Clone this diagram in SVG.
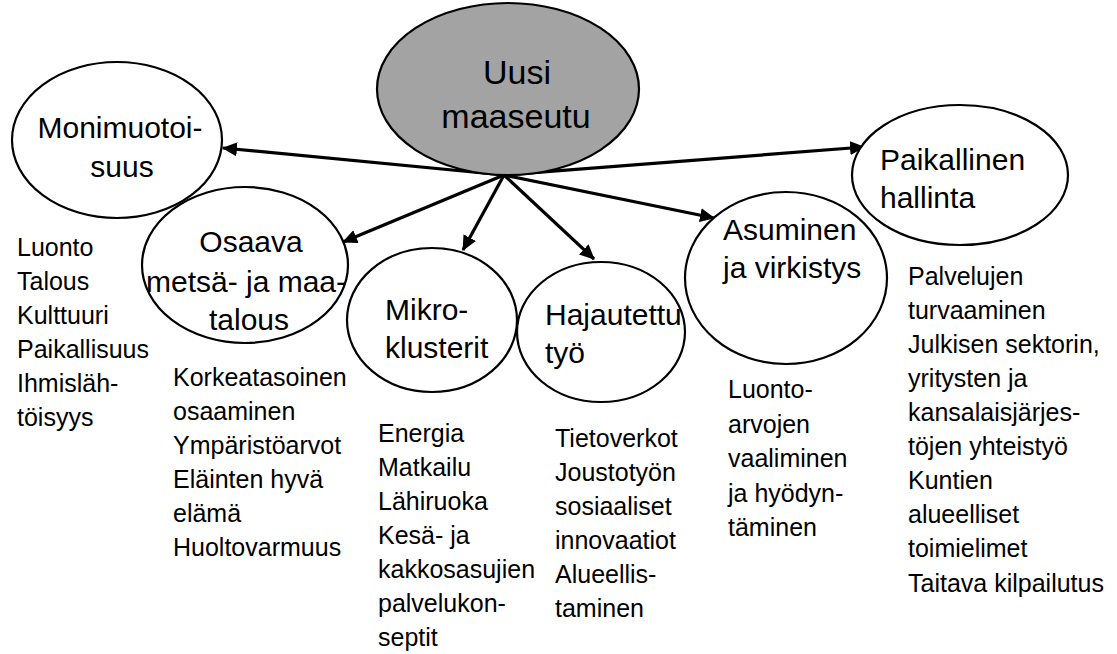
<svg xmlns="http://www.w3.org/2000/svg" width="1117" height="654" viewBox="0 0 1117 654">
<style>
  .node { fill: #ffffff; stroke: #000000; stroke-width: 2.2; }
  .center { fill: #a3a3a3; stroke: #000000; stroke-width: 2.2; }
  .lbl { font-family: "Liberation Sans", Arial, sans-serif; font-size: 30px; fill: #000; }
  .clbl { font-family: "Liberation Sans", Arial, sans-serif; font-size: 34px; fill: #000; text-anchor: middle; }
  .list { font-family: "Liberation Sans", Arial, sans-serif; font-size: 25px; fill: #000; }
  .conn { stroke: #000; stroke-width: 3.2; fill: none; marker-end: url(#ah); }
</style>
<defs>
  <marker id="ah" markerUnits="userSpaceOnUse" markerWidth="16" markerHeight="14" refX="14" refY="7" orient="auto">
    <path d="M0,0 L15,7 L0,14 Z" fill="#000"/>
  </marker>
</defs>
<rect width="1117" height="654" fill="#ffffff"/>

<g id="connectors">
  <line class="conn" x1="504" y1="175" x2="223" y2="148"/>
  <line class="conn" x1="504" y1="175" x2="343" y2="242"/>
  <line class="conn" x1="504" y1="175" x2="463" y2="250"/>
  <line class="conn" x1="504" y1="175" x2="594" y2="259"/>
  <line class="conn" x1="504" y1="175" x2="714" y2="218"/>
  <line class="conn" x1="504" y1="175" x2="864" y2="147"/>
</g>

<g id="uusi-maaseutu">
  <ellipse class="center" cx="508" cy="89" rx="131" ry="86"/>
  <text class="clbl" x="517" y="84">Uusi</text>
  <text class="clbl" x="516" y="128">maaseutu</text>
</g>

<g id="monimuotoisuus">
  <ellipse class="node" cx="117" cy="140" rx="105" ry="78"/>
  <text class="lbl" x="120" y="138" text-anchor="middle">Monimuotoi-</text>
  <text class="lbl" x="122" y="177" text-anchor="middle">suus</text>
  <text class="list" x="17" y="256">Luonto</text>
  <text class="list" x="17" y="290">Talous</text>
  <text class="list" x="17" y="324">Kulttuuri</text>
  <text class="list" x="17" y="358">Paikallisuus</text>
  <text class="list" x="17" y="392">Ihmisläh-</text>
  <text class="list" x="17" y="426">töisyys</text>
</g>

<g id="osaava">
  <ellipse class="node" cx="245" cy="265" rx="103" ry="78"/>
  <text class="lbl" x="251" y="252" text-anchor="middle">Osaava</text>
  <text class="lbl" x="246" y="292" text-anchor="middle">metsä- ja maa-</text>
  <text class="lbl" x="249" y="330" text-anchor="middle">talous</text>
  <text class="list" x="173" y="386">Korkeatasoinen</text>
  <text class="list" x="173" y="420">osaaminen</text>
  <text class="list" x="173" y="454">Ympäristöarvot</text>
  <text class="list" x="173" y="488">Eläinten hyvä</text>
  <text class="list" x="173" y="522">elämä</text>
  <text class="list" x="173" y="556">Huoltovarmuus</text>
</g>

<g id="mikroklusterit">
  <ellipse class="node" cx="432" cy="320" rx="85" ry="72"/>
  <text class="lbl" x="385" y="320">Mikro-</text>
  <text class="lbl" x="385" y="358">klusterit</text>
  <text class="list" x="378" y="442">Energia</text>
  <text class="list" x="378" y="476">Matkailu</text>
  <text class="list" x="378" y="510">Lähiruoka</text>
  <text class="list" x="378" y="544">Kesä- ja</text>
  <text class="list" x="378" y="578">kakkosasujien</text>
  <text class="list" x="378" y="612">palvelukon-</text>
  <text class="list" x="378" y="646">septit</text>
</g>

<g id="hajautettu-tyo">
  <ellipse class="node" cx="601" cy="332" rx="84" ry="70"/>
  <text class="lbl" x="545" y="325">Hajautettu</text>
  <text class="lbl" x="545" y="363">työ</text>
  <text class="list" x="555" y="447">Tietoverkot</text>
  <text class="list" x="555" y="481">Joustotyön</text>
  <text class="list" x="555" y="515">sosiaaliset</text>
  <text class="list" x="555" y="549">innovaatiot</text>
  <text class="list" x="555" y="583">Alueellis-</text>
  <text class="list" x="555" y="617">taminen</text>
</g>

<g id="asuminen">
  <ellipse class="node" cx="786" cy="278" rx="101" ry="86"/>
  <text class="lbl" x="723" y="240">Asuminen</text>
  <text class="lbl" x="723" y="278">ja virkistys</text>
  <text class="list" x="728" y="398">Luonto-</text>
  <text class="list" x="728" y="433">arvojen</text>
  <text class="list" x="728" y="467">vaaliminen</text>
  <text class="list" x="728" y="502">ja hyödyn-</text>
  <text class="list" x="728" y="536">täminen</text>
</g>

<g id="paikallinen-hallinta">
  <ellipse class="node" cx="960" cy="175" rx="108" ry="70"/>
  <text class="lbl" x="880" y="170">Paikallinen</text>
  <text class="lbl" x="880" y="208">hallinta</text>
  <text class="list" x="908" y="285">Palvelujen</text>
  <text class="list" x="908" y="319">turvaaminen</text>
  <text class="list" x="908" y="353">Julkisen sektorin,</text>
  <text class="list" x="908" y="387">yritysten ja</text>
  <text class="list" x="908" y="421">kansalaisjärjes-</text>
  <text class="list" x="908" y="455">töjen yhteistyö</text>
  <text class="list" x="908" y="489">Kuntien</text>
  <text class="list" x="908" y="523">alueelliset</text>
  <text class="list" x="908" y="557">toimielimet</text>
  <text class="list" x="908" y="592">Taitava kilpailutus</text>
</g>
</svg>
